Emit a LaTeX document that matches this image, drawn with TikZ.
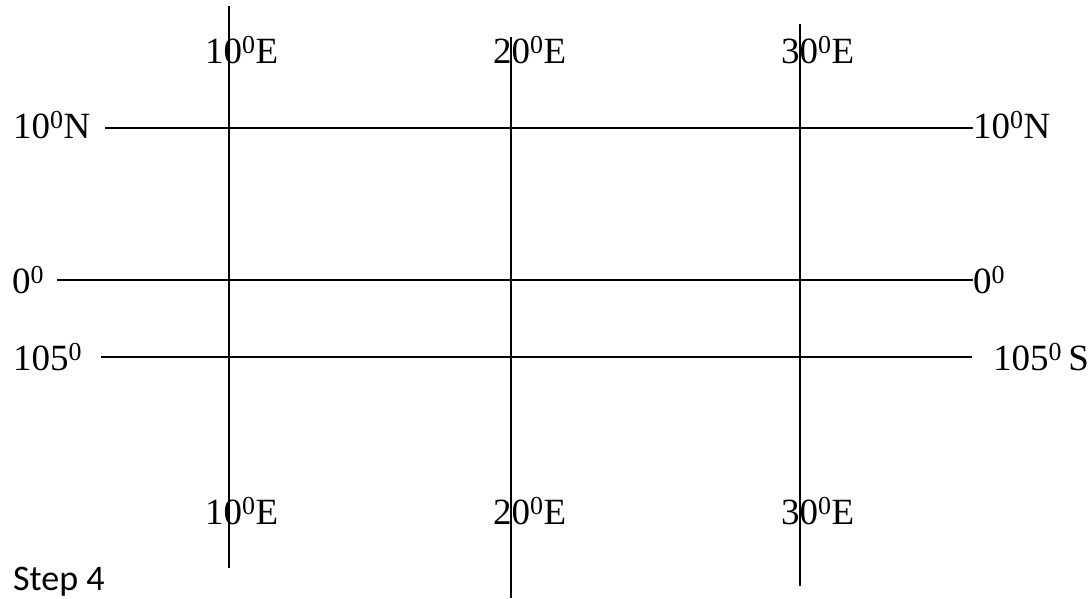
\documentclass[tikz,border=0pt]{standalone}
\usepackage{fontspec}
\setmainfont{Liberation Serif}
\newfontfamily\stepfont{Carlito}
\begin{document}
\begin{tikzpicture}[x=1pt,y=-1pt,
  grid/.style={line width=2pt,black},
  lab/.style={inner sep=0pt,anchor=base west,font=\fontsize{37}{42}\selectfont}]
\useasboundingbox (0,0) rectangle (1091,598);
% meridians
\coordinate (m1t) at (229,6);   \coordinate (m1b) at (229,568);
\coordinate (m2t) at (511,37);  \coordinate (m2b) at (511,598);
\coordinate (m3t) at (800,24);  \coordinate (m3b) at (800,586);
% parallels
\coordinate (p1l) at (105,128); \coordinate (p1r) at (973,128);
\coordinate (p2l) at (57,280);  \coordinate (p2r) at (973,280);
\coordinate (p3l) at (101,357); \coordinate (p3r) at (972,357);
\draw[grid] (m1t) -- (m1b);
\draw[grid] (m2t) -- (m2b);
\draw[grid] (m3t) -- (m3b);
\draw[grid] (p1l) -- (p1r);
\draw[grid] (p2l) -- (p2r);
\draw[grid] (p3l) -- (p3r);
% top labels
\node[lab] (t1) at (205,63) {10\textsuperscript{0}E};
\node[lab] (t2) at (493,63) {20\textsuperscript{0}E};
\node[lab] (t3) at (781,63) {30\textsuperscript{0}E};
% bottom labels
\node[lab] (b1) at (205,524) {10\textsuperscript{0}E};
\node[lab] (b2) at (493,524) {20\textsuperscript{0}E};
\node[lab] (b3) at (781,524) {30\textsuperscript{0}E};
% left labels
\node[lab] (l1) at (13,138) {10\textsuperscript{0}N};
\node[lab] (l2) at (12,293) {0\textsuperscript{0}};
\node[lab] (l3) at (13,370) {105\textsuperscript{0}};
% right labels
\node[lab] (r1) at (973,138) {10\textsuperscript{0}N};
\node[lab] (r2) at (973,293) {0\textsuperscript{0}};
\node[lab] (r3) at (993,370) {105\textsuperscript{0}\,S};
% step
\node[inner sep=0pt,anchor=base west,font=\stepfont\fontsize{36}{40}\selectfont] (st) at (13,590) {Step 4};
\end{tikzpicture}
\end{document}
